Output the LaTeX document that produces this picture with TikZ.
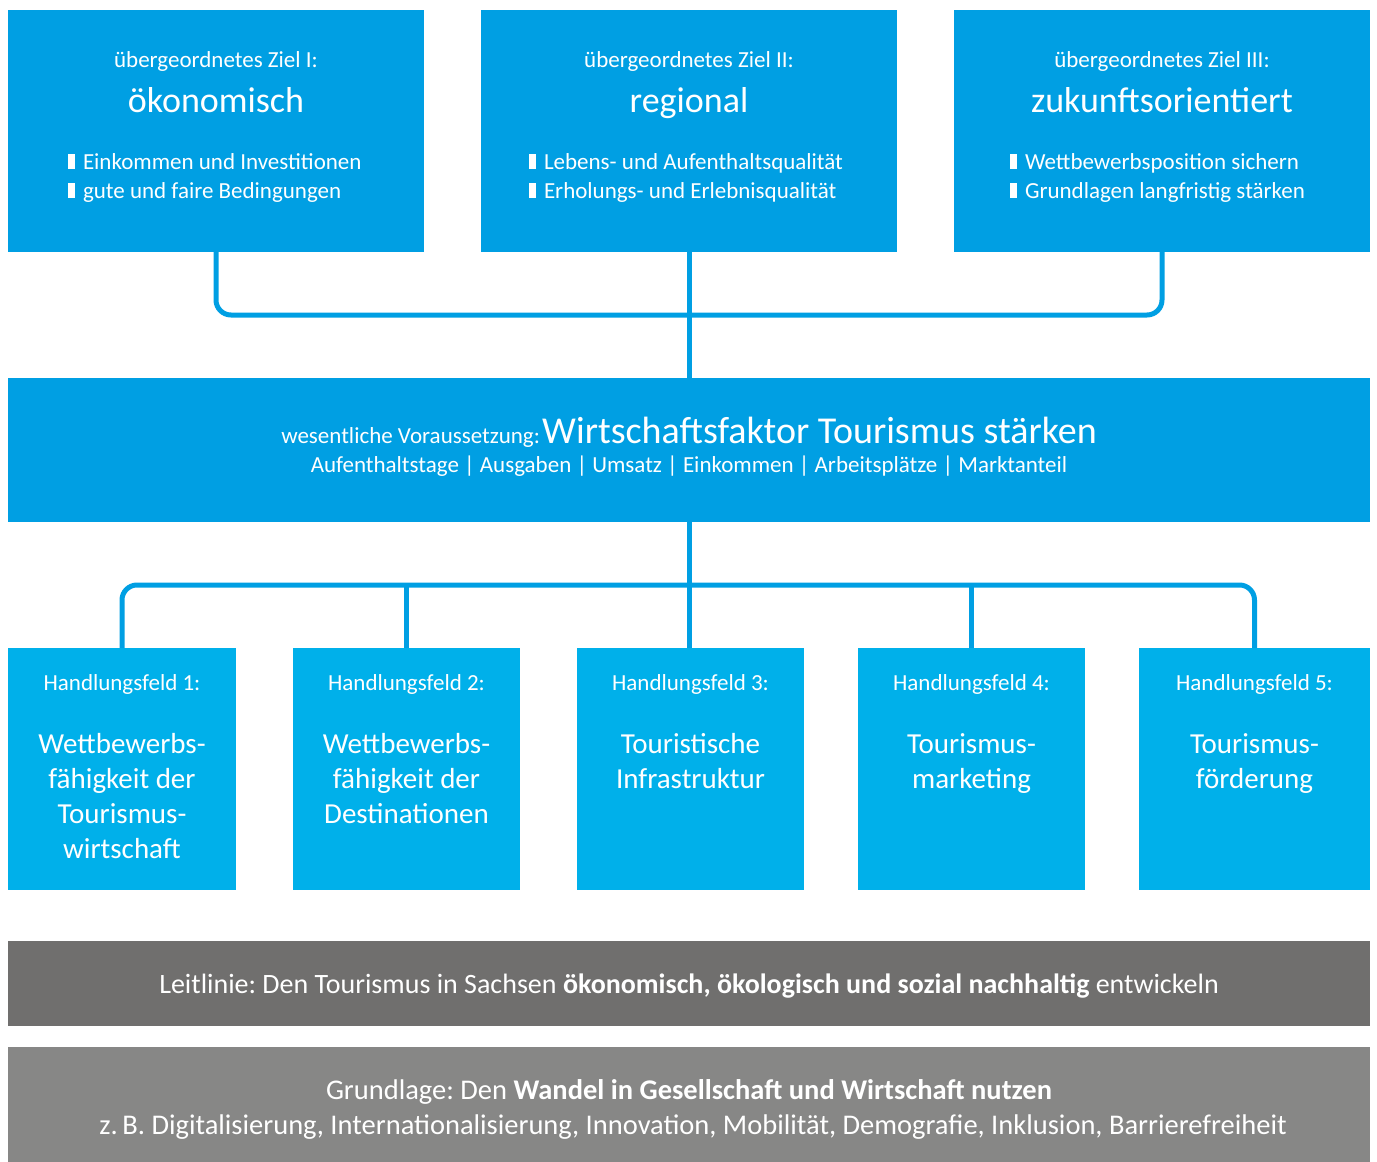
\documentclass[tikz,border=0pt]{standalone}
\usepackage{fontspec}
\setmainfont{Carlito}
\usepackage{tikz}
\usetikzlibrary{calc,positioning}
\usepackage{xcolor}
\definecolor{zielblau}{HTML}{009FE3}
\definecolor{feldblau}{HTML}{00B0EA}
\definecolor{leitgrau}{HTML}{706F6E}
\definecolor{grundgrau}{HTML}{878786}
\frenchspacing

\newcommand{\zielpunkt}{\rule{7pt}{15pt}\hspace{8pt}}
\newcommand{\fs}[2]{\fontsize{#1}{#2}\selectfont}

\tikzset{
  zielbox/.style={fill=zielblau, inner sep=0pt, outer sep=0pt, minimum width=416, minimum height=242},
  feldbox/.style={fill=feldblau, inner sep=0pt, outer sep=0pt, minimum height=242},
  balken/.style={inner sep=0pt, outer sep=0pt, minimum width=1362},
  txt/.style={text=white, inner sep=0pt, outer sep=0pt, align=center},
  link/.style={draw=zielblau, line width=5pt, rounded corners=15pt},
}

\begin{document}
\begin{tikzpicture}[x=1pt,y=-1pt]
  \useasboundingbox (0,0) rectangle (1377,1162);

  % Ziele
  \node[zielbox] (ziel1) at (216,131) {};
  \node[zielbox] (ziel2) at (689,131) {};
  \node[zielbox] (ziel3) at (1162,131) {};

  \node[txt, anchor=base, font=\fs{23}{27}] (kopf1) at (216,67) {übergeordnetes Ziel I:};
  \node[txt, anchor=base, font=\fs{36}{40}] (titel1) at (216,112) {ökonomisch};
  \node[txt, anchor=base west, font=\fs{23}{27}] (punkt1a) at (68,169) {\zielpunkt Einkommen und Investitionen};
  \node[txt, anchor=base west, font=\fs{23}{27}] (punkt1b) at (68,198) {\zielpunkt gute und faire Bedingungen};

  \node[txt, anchor=base, font=\fs{23}{27}] (kopf2) at (689,67) {übergeordnetes Ziel II:};
  \node[txt, anchor=base, font=\fs{36}{40}] (titel2) at (689,112) {regional};
  \node[txt, anchor=base west, font=\fs{23}{27}] (punkt2a) at (529,169) {\zielpunkt Lebens- und Aufenthaltsqualität};
  \node[txt, anchor=base west, font=\fs{23}{27}] (punkt2b) at (529,198) {\zielpunkt Erholungs- und Erlebnisqualität};

  \node[txt, anchor=base, font=\fs{23}{27}] (kopf3) at (1162,67) {übergeordnetes Ziel III:};
  \node[txt, anchor=base, font=\fs{36}{40}] (titel3) at (1162,112) {zukunftsorientiert};
  \node[txt, anchor=base west, font=\fs{23}{27}] (punkt3a) at (1010,169) {\zielpunkt Wettbewerbsposition sichern};
  \node[txt, anchor=base west, font=\fs{23}{27}] (punkt3b) at (1010,198) {\zielpunkt Grundlagen langfristig stärken};

  % Voraussetzung
  \node[balken, fill=zielblau, minimum height=144] (basis) at (689,450) {};
  \node[txt, anchor=base] (basiskopf) at (689,443)
    {{\fs{23}{27}wesentliche Voraussetzung:} {\fs{38}{42}Wirtschaftsfaktor Tourismus stärken}};
  \node[txt, anchor=base, font=\fs{23}{27}] (basiszeile) at (689,472)
    {Aufenthaltstage | Ausgaben | Umsatz | Einkommen | Arbeitsplätze | Marktanteil};

  % Handlungsfelder
  \node[feldbox, minimum width=228] (feld1) at (122,769) {};
  \node[feldbox, minimum width=227] (feld2) at (406.5,769) {};
  \node[feldbox, minimum width=227] (feld3) at (690.5,769) {};
  \node[feldbox, minimum width=227] (feld4) at (971.5,769) {};
  \node[feldbox, minimum width=231] (feld5) at (1254.5,769) {};

  \foreach \n/\titel in {1/{Wettbewerbs-\\fähigkeit der\\Tourismus-\\wirtschaft},
                         2/{Wettbewerbs-\\fähigkeit der\\Destinationen},
                         3/{Touristische\\Infrastruktur},
                         4/{Tourismus-\\marketing},
                         5/{Tourismus-\\förderung}} {
    \node[txt, anchor=base, font=\fs{23}{27}] (feldkopf\n) at ($(feld\n.north)+(0,42)$) {Handlungsfeld \n:};
    \node[txt, anchor=north, font=\fs{29}{35}] (feldtitel\n) at ($(feld\n.north)+(0,81)$) {\strut\titel};
  }

  % Leitlinie und Grundlage
  \node[balken, fill=leitgrau, minimum height=85] (leitlinie) at (689,983.5) {};
  \node[txt, anchor=base, font=\fs{28}{32}] (leittext) at (689,993)
    {Leitlinie: Den Tourismus in Sachsen \textbf{ökonomisch, ökologisch und sozial nachhaltig} entwickeln};
  \node[balken, fill=grundgrau, minimum height=115] (grundlage) at (689,1104.5) {};
  \node[txt, anchor=base, font=\fs{28.5}{32}] (grundkopf) at (689,1099)
    {Grundlage: Den \textbf{Wandel in Gesellschaft und Wirtschaft nutzen}};
  \node[txt, anchor=base, font=\fs{28.5}{32}] (grundzeile) at (693,1134)
    {z.\,B. Digitalisierung, Internationalisierung, Innovation, Mobilität, Demografie, Inklusion, Barrierefreiheit};

  % Verbindungen
  \coordinate (sammler) at (689,315);
  \coordinate (verteiler) at (689,585);
  \draw[link] (ziel1.south) |- (sammler) -| (ziel3.south);
  \draw[link] (ziel2.south) -- (basis.north);
  \draw[link] (feld1.north) |- (verteiler) -| (feld5.north);
  \draw[link] (basis.south) -- (basis.south |- feld3.north);
  \draw[link] (verteiler -| feld2.north) -- (feld2.north);
  \draw[link] (verteiler -| feld4.north) -- (feld4.north);
\end{tikzpicture}
\end{document}
